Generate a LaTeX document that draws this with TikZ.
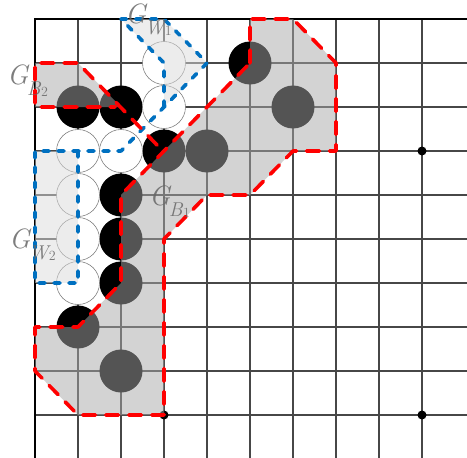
\documentclass[tikz,border=0pt]{standalone}
\definecolor{wblue}{RGB}{0,112,192}
\newcommand\grouplabel[2]{{\fontsize{28}{28}\selectfont\itshape G}\kern-1.5pt\raisebox{-11pt}{\fontsize{20}{20}\selectfont\itshape #1\kern0.5pt\raisebox{-1.5pt}{\fontsize{14}{14}\selectfont\upshape #2}}}
\tikzset{
  gridline/.style={line width=1.2pt, black!72},
  border/.style={line width=2.8pt, black},
  bstone/.style={fill=black},
  wstone/.style={fill=white, draw=black!50, line width=0.6pt},
  hoshi/.style={fill=black},
  bshade/.style={fill=black!34, fill opacity=0.5},
  wshade/.style={fill=black!14, fill opacity=0.5},
  redline/.style={draw=red, line width=3.6pt, dash pattern=on 13pt off 10pt, line cap=round, line join=round},
  blueline/.style={draw=wblue, line width=3.6pt, dash pattern=on 6pt off 9pt, line cap=round, line join=round},
  glabel/.style={text=black!60, text opacity=0.85, inner sep=0pt, anchor=base west}
}
\begin{document}
\begin{tikzpicture}[x=1pt,y=-1pt]
\useasboundingbox (0,0) rectangle (467,458);
\clip (0,0) rectangle (467,458);
% grid
\foreach \i in {1,...,9} \draw[gridline] ({35+43*\i},19) -- ({35+43*\i},458);
\foreach \j in {1,...,9} \draw[gridline] (35,{19+44*\j}) -- (467,{19+44*\j});
\draw[border] (35,458) -- (35,19) -- (467,19);
% star points
\foreach \p in {(422,151),(422,415),(164,415)} \fill[hoshi] \p circle[radius=4.5pt];
% stones
\foreach \p in {(250,63),(293,107),(164,151),(207,151),(121,195),(121,239),(121,283),(78,327),(121,371),(78,107),(121,107)}
  \fill[bstone] \p circle[radius=21.5pt];
\foreach \p in {(164,63),(164,107),(78,151),(121,151),(78,195),(78,239),(78,283)}
  \filldraw[wstone] \p circle[radius=21.5pt];
% group shading
\fill[bshade] (250,19) -- (293,19) -- (336,63) -- (336,151) -- (293,151) -- (250,195) -- (207,195) -- (164,239) -- (164,415) -- (78,415) -- (35,371) -- (35,327) -- (78,327) -- (121,283) -- (121,195) -- (250,63) -- cycle;
\fill[bshade] (35,63) -- (78,63) -- (121,107) -- (35,107) -- cycle;
\fill[wshade] (121,19) -- (164,19) -- (207,63) -- (164,107) -- (164,63) -- cycle;
\fill[wshade] (35,151) -- (78,151) -- (78,283) -- (35,283) -- cycle;
% white group outlines
\draw[blueline] (78,151) -- (78,283) -- (35,283) -- (35,151) -- (121,151) -- (164,107) -- (207,63) -- (164,19) -- (121,19) -- (164,63) -- (164,107);
% black group outlines
\draw[redline] (250,63) -- (250,19) -- (293,19) -- (336,63) -- (336,151) -- (293,151) -- (250,195) -- (207,195) -- (164,239) -- (164,415) -- (78,415) -- (35,371) -- (35,327) -- (78,327) -- (121,283) -- (121,195) -- (250,63);
\draw[redline] (157,145) -- (78,63) -- (35,63) -- (35,107) -- (115,107);
% labels
\node[glabel] (gw1) at (125,23) {\grouplabel{W}{1}};
\node[glabel] (gb2) at (7,84) {\grouplabel{B}{2}};
\node[glabel] (gb1) at (149,205) {\grouplabel{B}{1}};
\node[glabel] (gw2) at (9,248) {\grouplabel{W}{2}};
\end{tikzpicture}
\end{document}
